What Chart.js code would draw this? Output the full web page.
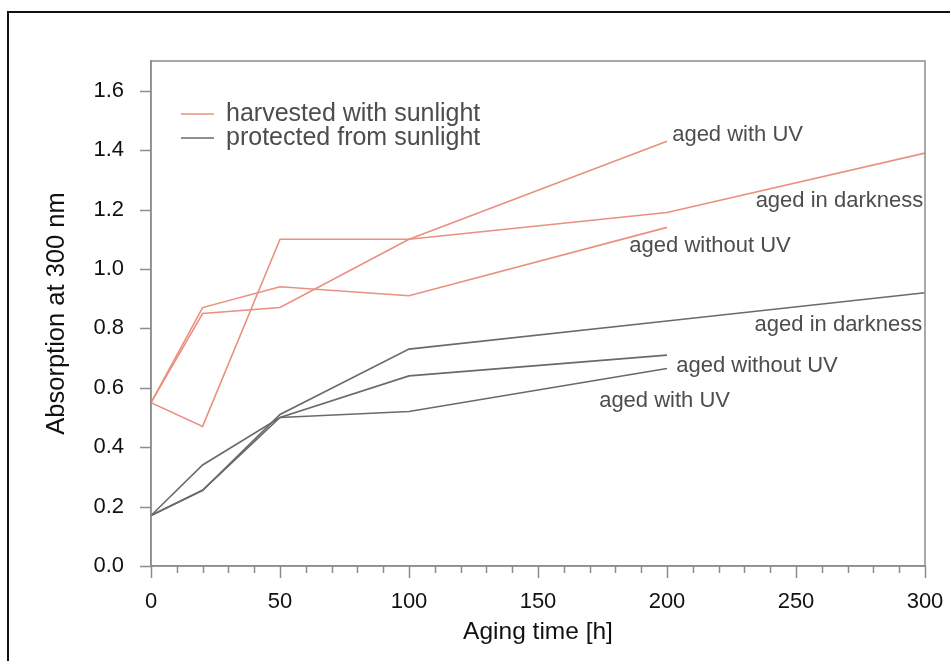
<!DOCTYPE html>
<html>
<head>
<meta charset="utf-8">
<script src="https://cdn.jsdelivr.net/npm/chart.js@4"></script>
<style>
  body { margin: 0; background: #fff; }
  #wrap { position: relative; width: 950px; height: 661px; }
  #frame { position: absolute; left: 7px; top: 11px; width: 945px; height: 660px;
           border-top: 2px solid #111; border-left: 2px solid #111; pointer-events: none; }
</style>
</head>
<body>
<div id="wrap">
  <canvas id="chart" width="950" height="661"></canvas>
  <div id="frame"></div>
</div>
<script>
// Data (aging time in hours, absorption at 300 nm)
const hoursLong = [0, 20, 50, 100, 200, 300];
const hoursShort = [0, 20, 50, 100, 200];

const sunDark = [0.55, 0.47, 1.10, 1.10, 1.19, 1.39];
const sunUV = [0.55, 0.85, 0.87, 1.10, 1.43];
const sunNoUV = [0.55, 0.87, 0.94, 0.91, 1.14];

const shadeDark = [0.17, 0.255, 0.51, 0.73, 0.825, 0.92];
const shadeNoUV = [0.17, 0.255, 0.50, 0.64, 0.71];
const shadeUV = [0.17, 0.34, 0.50, 0.52, 0.665];

const xTicks = [0, 50, 100, 150, 200, 250, 300];
const yTicks = [0.0, 0.2, 0.4, 0.6, 0.8, 1.0, 1.2, 1.4, 1.6];

const legendLabels = ['harvested with sunlight', 'protected from sunlight'];

// curve labels: [text, hours, absorption, align]
const curveLabels = [
  ['aged with UV', 202, 1.452, 'left'],
  ['aged in darkness', 299.3, 1.229, 'right'],
  ['aged without UV', 185.4, 1.077, 'left'],
  ['aged in darkness', 298.9, 0.813, 'right'],
  ['aged without UV', 203.6, 0.675, 'left'],
  ['aged with UV', 173.7, 0.554, 'left']
];

const SALMON = '#ea9080';
const GREY = '#6a6a6a';
const AXIS = '#8c8c8c';
const FONT = '"Liberation Sans", Arial, sans-serif';

const pts = (xs, ys) => ys.map((y, i) => ({ x: xs[i], y }));
const line = (xs, ys, color) => ({
  data: pts(xs, ys), borderColor: color, borderWidth: 1.6,
  pointRadius: 0, tension: 0, fill: false
});

const decor = {
  id: 'decor',
  afterDraw(chart) {
    const { ctx, chartArea: a, scales: { x, y } } = chart;
    ctx.save();
    ctx.strokeStyle = AXIS;
    ctx.lineWidth = 1.5;
    ctx.strokeRect(a.left, a.top, a.right - a.left, a.bottom - a.top);

    // x ticks: minor every 10, major every 50
    ctx.beginPath();
    for (let v = 0; v <= 300; v += 10) {
      const px = Math.round(x.getPixelForValue(v)) + 0.5;
      ctx.moveTo(px, a.bottom);
      ctx.lineTo(px, a.bottom + (xTicks.includes(v) ? 12 : 7));
    }
    yTicks.forEach(v => {
      const py = Math.round(y.getPixelForValue(v)) + 0.5;
      ctx.moveTo(a.left - 11, py);
      ctx.lineTo(a.left, py);
    });
    ctx.stroke();

    // legend
    ctx.font = '25px ' + FONT;
    ctx.textBaseline = 'middle';
    ctx.fillStyle = '#4d4d4d';
    [SALMON, GREY].forEach((c, i) => {
      const ly = 114 + i * 24;
      ctx.strokeStyle = c;
      ctx.lineWidth = 1.6;
      ctx.beginPath();
      ctx.moveTo(181, ly);
      ctx.lineTo(214, ly);
      ctx.stroke();
      ctx.fillText(legendLabels[i], 226, ly);
    });

    // curve labels
    ctx.font = '22px ' + FONT;
    ctx.fillStyle = '#4d4d4d';
    curveLabels.forEach(([t, hx, ay, al]) => {
      ctx.textAlign = al;
      ctx.fillText(t, x.getPixelForValue(hx), y.getPixelForValue(ay));
    });
    ctx.restore();
  }
};

new Chart(document.getElementById('chart'), {
  type: 'line',
  data: {
    datasets: [
      line(hoursLong, sunDark, SALMON),
      line(hoursShort, sunUV, SALMON),
      line(hoursShort, sunNoUV, SALMON),
      line(hoursLong, shadeDark, GREY),
      line(hoursShort, shadeNoUV, GREY),
      line(hoursShort, shadeUV, GREY)
    ]
  },
  options: {
    responsive: false,
    animation: false,
    devicePixelRatio: 1,
    layout: { padding: { top: 61, right: 25, left: 0, bottom: 0 } },
    plugins: { legend: { display: false }, tooltip: { enabled: false } },
    scales: {
      x: {
        type: 'linear', min: 0, max: 300,
        grid: { display: false },
        border: { color: AXIS, width: 1.5 },
        ticks: {
          stepSize: 50, autoSkip: false, maxRotation: 0, padding: 15,
          color: '#111', font: { family: FONT, size: 22 }
        },
        title: {
          display: true, text: 'Aging time [h]', color: '#111',
          font: { family: FONT, size: 24.5 }, padding: { top: 0, bottom: 14 }
        },
        afterFit: s => { s.height = 95; s.paddingLeft = 0; s.paddingRight = 0; }
      },
      y: {
        min: 0, max: 1.7,
        grid: { display: false },
        border: { color: AXIS, width: 1.5 },
        afterBuildTicks: s => { s.ticks = yTicks.map(v => ({ value: v })); },
        ticks: {
          padding: 19, color: '#111', font: { family: FONT, size: 22 },
          callback: v => Number(v).toFixed(1)
        },
        title: {
          display: true, text: 'Absorption at 300 nm', color: '#111',
          font: { family: FONT, size: 25.5 }, padding: { top: 42, bottom: 0 }
        },
        afterFit: s => { s.width = 151; s.paddingTop = 0; s.paddingBottom = 0; }
      }
    }
  },
  plugins: [decor]
});
</script>
</body>
</html>
